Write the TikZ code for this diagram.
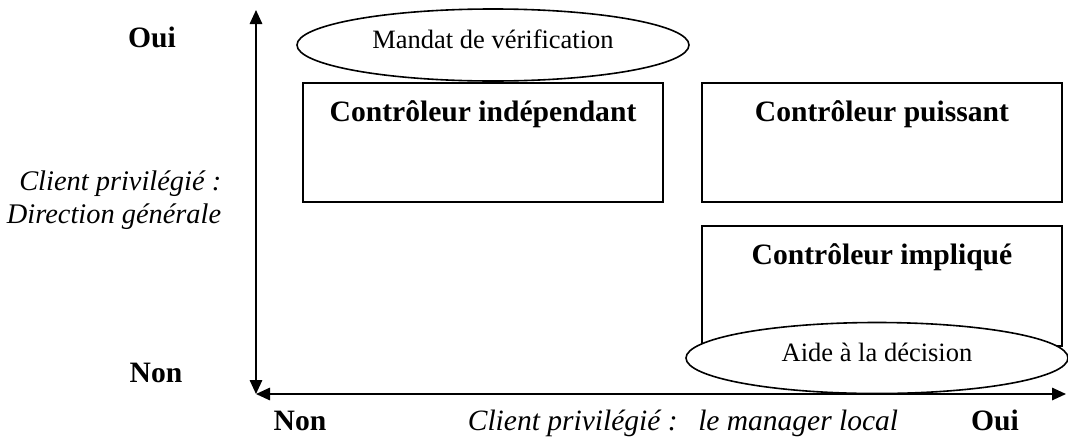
\documentclass[tikz,border=0pt]{standalone}
\usepackage{fontspec}
\setmainfont{Liberation Serif}
\usetikzlibrary{arrows.meta,shapes.geometric}
\begin{document}
\begin{tikzpicture}[x=1pt,y=-1pt,
  line width=1.6pt,
  boxstyle/.style={draw,rectangle,inner sep=0pt},
  ovalstyle/.style={draw,ellipse,fill=white,inner sep=0pt,text height=0.68em,text depth=0.05em,font=\fontsize{26.5}{30}\selectfont},
  boldlbl/.style={anchor=base,inner sep=0pt,font=\fontsize{29.6}{34}\selectfont\bfseries},
  itlbl/.style={anchor=base,inner sep=0pt,font=\fontsize{28.4}{33}\selectfont\itshape},
  axisarrow/.style={{Triangle[length=14pt,width=12.5pt]}-{Triangle[length=14pt,width=12.5pt]}}
]
\useasboundingbox (0,0) rectangle (1068,437);
% axes
\coordinate (O) at (256,394);
\coordinate (Ytop) at (256,10);
\coordinate (Xend) at (1066,394);
\draw[axisarrow] (O) -- (Ytop);
\draw[axisarrow] (O) -- (Xend);
% boxes
\node[boxstyle,minimum width=360pt,minimum height=119pt] (indep) at (483,142.5) {};
\node[boxstyle,minimum width=360pt,minimum height=119pt] (puiss) at (882,142.5) {};
\node[boxstyle,minimum width=360pt,minimum height=120pt] (impl) at (882,286) {};
\node[boldlbl] (tindep) at ([yshift=-39pt]indep.north) {Contrôleur indépendant};
\node[boldlbl] (tpuiss) at ([yshift=-39pt]puiss.north) {Contrôleur puissant};
\node[boldlbl] (timpl) at ([yshift=-39pt]impl.north) {Contrôleur impliqué};
% ellipses
\node[ovalstyle,minimum width=392pt,minimum height=72pt] (mandat) at (493,45) {Mandat de vérification};
\node[ovalstyle,minimum width=382pt,minimum height=71pt] (aide) at (877,358) {Aide à la décision};
% axis labels
\node[boldlbl] (ouiy) at (152,47) {Oui};
\node[boldlbl] (nony) at (156,382) {Non};
\node[boldlbl] (nonx) at (300,430) {Non};
\node[boldlbl] (ouix) at (995,430) {Oui};
\node[itlbl,anchor=base east] (ylbl1) at (222,190) {Client privilégié :};
\node[itlbl,anchor=base east] (ylbl2) at (222,223) {Direction générale};
\node[itlbl,font=\fontsize{29.5}{34}\selectfont\itshape] (xlbl) at (683,430) {Client privilégié :\hspace{0.7em}le manager local};
\end{tikzpicture}
\end{document}
